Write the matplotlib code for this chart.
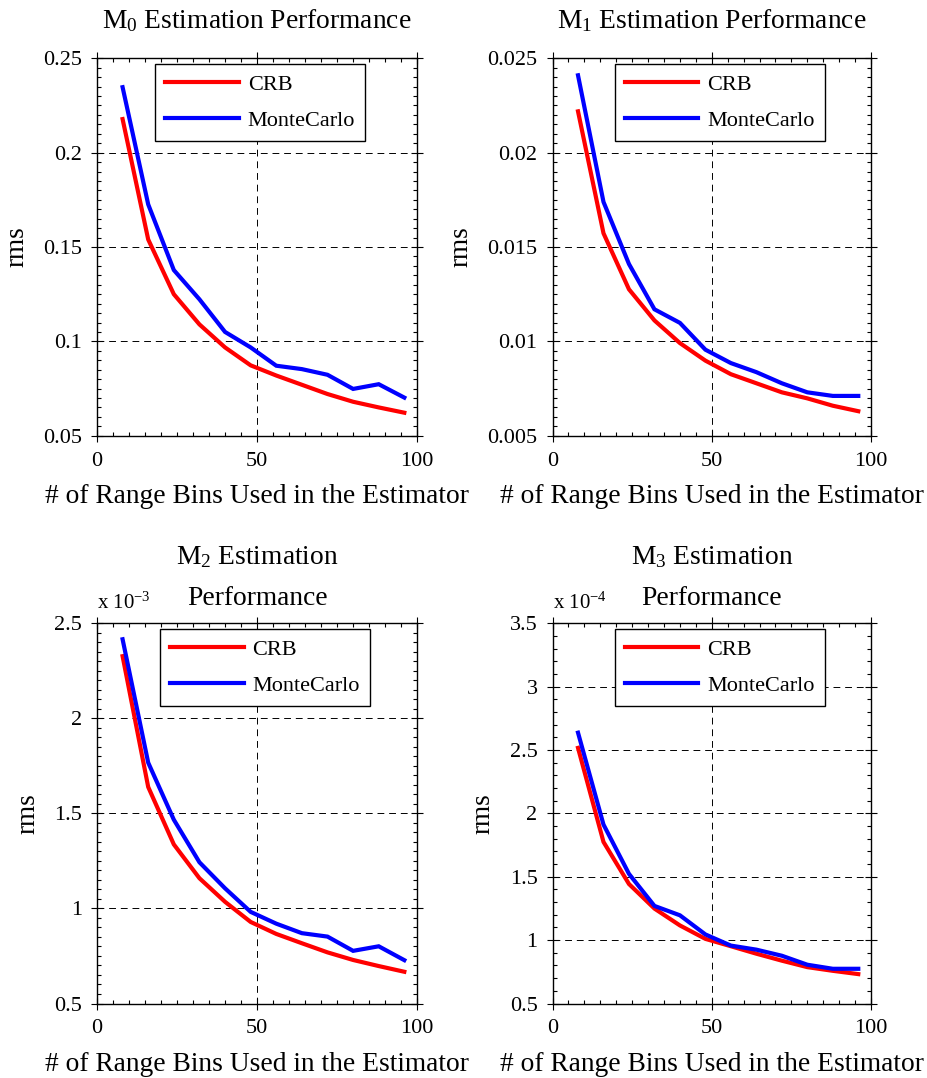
import matplotlib
matplotlib.use('Agg')
import matplotlib.pyplot as plt
from matplotlib.ticker import MultipleLocator, FuncFormatter

plt.rcParams['font.family'] = 'Liberation Serif'
plt.rcParams['mathtext.fontset'] = 'custom'
plt.rcParams['mathtext.rm'] = 'Liberation Serif'
plt.rcParams['mathtext.it'] = 'Liberation Serif:italic'

# number of range bins used
bins = [8, 16, 24, 32, 40, 48, 56, 64, 72, 80, 88, 96]

# rms of each moment estimate: Cramer-Rao bound vs Monte Carlo runs
m0_crb = [0.2178, 0.154, 0.125, 0.109, 0.0968, 0.0873, 0.0819, 0.077, 0.0721, 0.068, 0.065, 0.0622]
m0_mc = [0.2347, 0.1726, 0.1378, 0.1223, 0.105, 0.0968, 0.0871, 0.0853, 0.0823, 0.0748, 0.0773, 0.0702]

m1_crb = [0.02219, 0.01573, 0.01276, 0.01111, 0.00991, 0.00898, 0.00826, 0.00778, 0.0073, 0.00698, 0.00659, 0.0063]
m1_mc = [0.0241, 0.01739, 0.0141, 0.0117, 0.01098, 0.00956, 0.00885, 0.00837, 0.00778, 0.0073, 0.00711, 0.00711]

m2_crb = [2.327e-3, 1.639e-3, 1.337e-3, 1.159e-3, 1.035e-3, 0.929e-3, 0.866e-3, 0.817e-3, 0.769e-3, 0.729e-3, 0.697e-3, 0.667e-3]
m2_mc = [2.416e-3, 1.767e-3, 1.467e-3, 1.243e-3, 1.106e-3, 0.982e-3, 0.92e-3, 0.87e-3, 0.852e-3, 0.777e-3, 0.801e-3, 0.728e-3]

m3_crb = [2.517e-4, 1.775e-4, 1.443e-4, 1.249e-4, 1.116e-4, 1.01e-4, 0.952e-4, 0.893e-4, 0.838e-4, 0.787e-4, 0.758e-4, 0.732e-4]
m3_mc = [2.637e-4, 1.912e-4, 1.523e-4, 1.27e-4, 1.196e-4, 1.045e-4, 0.957e-4, 0.925e-4, 0.877e-4, 0.806e-4, 0.774e-4, 0.774e-4]

titles = ['M$_0$ Estimation Performance', 'M$_1$ Estimation Performance',
          'M$_2$ Estimation\nPerformance', 'M$_3$ Estimation\nPerformance']

fig = plt.figure(figsize=(9.28, 10.78), dpi=100)

# axes rectangles in figure fractions
rects = [
    [0.1045, 0.5958, 0.345, 0.3501],
    [0.5954, 0.5958, 0.3432, 0.3501],
    [0.1045, 0.0691, 0.345, 0.3527],
    [0.5954, 0.0691, 0.3432, 0.3527],
]
# ylim, major step, minor step, exponent shown above the axis
yset = [
    ((0.05, 0.25), 0.05, 0.005, 0),
    ((0.005, 0.025), 0.005, 0.0005, 0),
    ((0.5e-3, 2.5e-3), 0.5e-3, 0.05e-3, -3),
    ((0.5e-4, 3.5e-4), 0.5e-4, 0.1e-4, -4),
]
crb = [m0_crb, m1_crb, m2_crb, m3_crb]
mc = [m0_mc, m1_mc, m2_mc, m3_mc]
legend_x = [0.51, 0.525, 0.525, 0.525]

for i in range(4):
    ax = fig.add_axes(rects[i])
    ax.plot(bins, crb[i], color='#ff0000', lw=3, label='CRB', solid_joinstyle='miter')
    ax.plot(bins, mc[i], color='#0000ff', lw=3, label='MonteCarlo', solid_joinstyle='miter')

    (y0, y1), major, minor, ex = yset[i]
    ax.set_xlim(0, 100)
    ax.set_ylim(y0, y1)
    ax.xaxis.set_major_locator(MultipleLocator(50))
    ax.xaxis.set_minor_locator(MultipleLocator(5))
    ax.yaxis.set_major_locator(MultipleLocator(major))
    ax.yaxis.set_minor_locator(MultipleLocator(minor))
    scale = 10.0 ** ex
    ax.yaxis.set_major_formatter(FuncFormatter(lambda v, p, s=scale: '%g' % round(v / s, 6)))

    ax.tick_params(which='major', direction='inout', length=9, width=0.8,
                   top=True, right=True, labelsize=16)
    ax.tick_params(axis='x', which='major', pad=7)
    ax.tick_params(axis='y', which='major', pad=6.3)
    ax.tick_params(which='minor', direction='in', length=3, width=0.8,
                   top=True, right=True)
    for sp in ax.spines.values():
        sp.set_linewidth(1.0)

    ax.grid(True, which='major', color='k', linestyle=(0, (7, 5)), linewidth=0.7)

    ax.set_xlabel('# of Range Bins Used in the Estimator', fontsize=19.8, labelpad=9.5)
    ax.set_ylabel('rms', fontsize=19.5, labelpad=10)

    if ex == 0:
        ax.set_title(titles[i], fontsize=19.8, y=1.0, pad=22)
    else:
        ax.set_title(titles[i], fontsize=19.8, y=1.0, pad=13, linespacing=1.85)
        ax.text(0.0, 1.0 + 14 / 380, 'x 10$^{%d}$' % ex, transform=ax.transAxes,
                ha='left', va='baseline', fontsize=15)

    leg = ax.legend(loc='upper center', bbox_to_anchor=(legend_x[i], 0.985),
                    fontsize=16, fancybox=False, edgecolor='k', framealpha=1,
                    handlelength=3.3, handletextpad=0.4, borderpad=0.45,
                    labelspacing=0.72, borderaxespad=0)
    leg.get_frame().set_linewidth(1.0)

fig.savefig('out.png', dpi=100)
